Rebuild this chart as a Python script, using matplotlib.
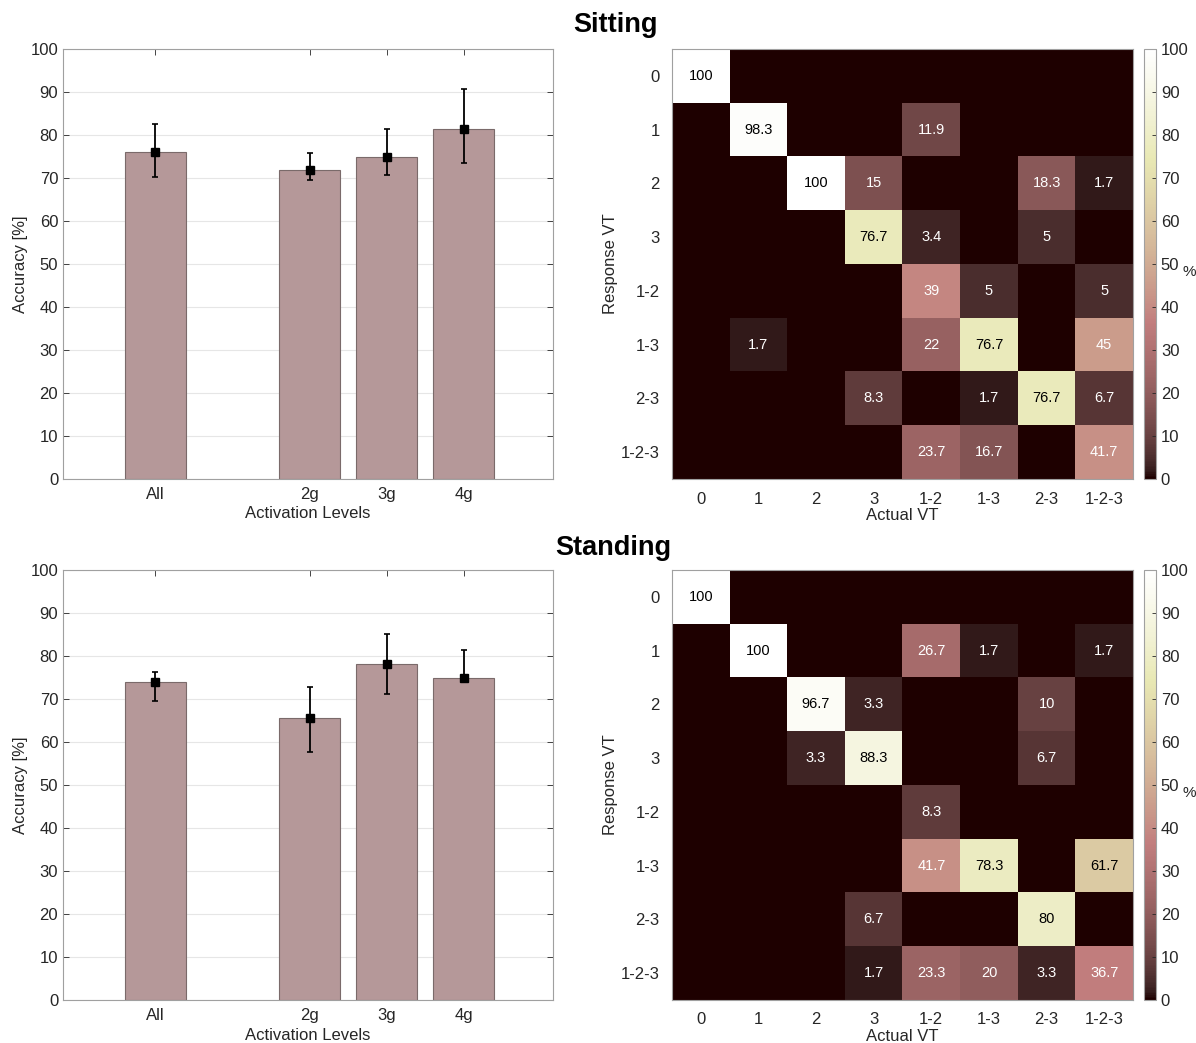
import numpy as np
import matplotlib
matplotlib.use("Agg")
from matplotlib import pyplot as plt

plt.rcParams['font.family'] = ['Liberation Sans', 'DejaVu Sans']

# bar chart data
levels = ["All", "2g", "3g", "4g"]
level_pos = [1, 3, 4, 5]

sit_acc = [76.0, 71.8, 75.0, 81.3]
sit_low = [70.2, 69.5, 70.8, 73.4]
sit_high = [82.6, 75.8, 81.3, 90.7]

stand_acc = [74.0, 65.6, 78.1, 75.0]
stand_low = [69.5, 57.7, 71.1, 75.0]
stand_high = [76.3, 72.7, 85.2, 81.3]

# confusion matrices (rows = response VT, cols = actual VT)
vt_labels = ["0", "1", "2", "3", "1-2", "1-3", "2-3", "1-2-3"]

sit_cm = [
    [100, 0, 0, 0, 0, 0, 0, 0],
    [0, 98.3, 0, 0, 11.9, 0, 0, 0],
    [0, 0, 100, 15, 0, 0, 18.3, 1.7],
    [0, 0, 0, 76.7, 3.4, 0, 5, 0],
    [0, 0, 0, 0, 39, 5, 0, 5],
    [0, 1.7, 0, 0, 22, 76.7, 0, 45],
    [0, 0, 0, 8.3, 0, 1.7, 76.7, 6.7],
    [0, 0, 0, 0, 23.7, 16.7, 0, 41.7],
]

stand_cm = [
    [100, 0, 0, 0, 0, 0, 0, 0],
    [0, 100, 0, 0, 26.7, 1.7, 0, 1.7],
    [0, 0, 96.7, 3.3, 0, 0, 10, 0],
    [0, 0, 3.3, 88.3, 0, 0, 6.7, 0],
    [0, 0, 0, 0, 8.3, 0, 0, 0],
    [0, 0, 0, 0, 41.7, 78.3, 0, 61.7],
    [0, 0, 0, 6.7, 0, 0, 80, 0],
    [0, 0, 0, 1.7, 23.3, 20, 3.3, 36.7],
]

W, H = 1196, 1043
fig = plt.figure(figsize=(W / 100, H / 100), dpi=100)


def px_axes(left, top, right, bottom):
    return fig.add_axes([left / W, 1 - bottom / H, (right - left) / W, (bottom - top) / H])


def bar_panel(ax, acc, low, high):
    acc = np.array(acc)
    err = [acc - np.array(low), np.array(high) - acc]
    ax.bar(level_pos, acc, width=0.8, color="#b59899", edgecolor="#7a6a6a", linewidth=0.8, zorder=2)
    ax.errorbar(level_pos, acc, yerr=err, fmt="s", color="black", ms=6,
                elinewidth=1.3, capsize=2.5, capthick=1.2, zorder=3)
    ax.set_xlim(-0.2, 6.16)
    ax.set_ylim(0, 100)
    ax.set_yticks(range(0, 101, 10))
    ax.set_xticks(level_pos)
    ax.set_xticklabels(levels)
    ax.grid(axis="y", color="#e6e6e6", linewidth=0.8, zorder=0)
    ax.tick_params(labelsize=12, colors="#262626", direction="in", length=4,
                   top=True, right=True, width=0.6)
    ax.tick_params(axis="x", pad=6)
    for s in ax.spines.values():
        s.set_color("#a0a0a0")
        s.set_linewidth(0.8)
    ax.set_ylabel("Accuracy [%]", fontsize=12, color="#262626", labelpad=2)
    ax.set_xlabel("Activation Levels", fontsize=12, color="#262626", labelpad=3)


def cm_panel(ax, cax, cm, pct_y):
    cm = np.array(cm, dtype=float)
    im = ax.imshow(cm, cmap="pink", vmin=0, vmax=100, aspect="auto", interpolation="nearest")
    for i in range(cm.shape[0]):
        for j in range(cm.shape[1]):
            v = cm[i, j]
            if v > 0:
                txt = "%g" % v
                ax.text(j, i, txt, ha="center", va="center", fontsize=10.5,
                        color="black" if v > 55 else "white")
    ax.set_xticks(range(len(vt_labels)))
    ax.set_xticklabels(vt_labels)
    ax.set_yticks(range(len(vt_labels)))
    ax.set_yticklabels(vt_labels)
    ax.tick_params(labelsize=12, colors="#262626", length=0, pad=9)
    for s in ax.spines.values():
        s.set_color("#a0a0a0")
        s.set_linewidth(0.8)
    ax.set_xlabel("Actual VT", fontsize=12, color="#262626", labelpad=1)
    ax.set_ylabel("Response VT", fontsize=12, color="#262626", labelpad=2)
    cb = fig.colorbar(im, cax=cax)
    cb.set_ticks(range(0, 101, 10))
    cb.ax.tick_params(labelsize=12, colors="#262626", direction="in", length=3, width=0.6)
    cb.outline.set_edgecolor("#a0a0a0")
    cb.outline.set_linewidth(0.8)
    fig.text(1189 / W, 1 - pct_y / H, "%", ha="center", va="center", fontsize=11, color="#262626")


ax1 = px_axes(63, 49, 553, 479)
bar_panel(ax1, sit_acc, sit_low, sit_high)
ax2 = px_axes(672, 49, 1133, 479)
cax2 = px_axes(1144, 49, 1156, 479)
cm_panel(ax2, cax2, sit_cm, 272)

ax3 = px_axes(63, 570, 553, 1000)
bar_panel(ax3, stand_acc, stand_low, stand_high)
ax4 = px_axes(672, 570, 1133, 1000)
cax4 = px_axes(1144, 570, 1156, 1000)
cm_panel(ax4, cax4, stand_cm, 793)

fig.text(615 / W, 1 - 25 / H, "Sitting", ha="center", va="center", fontsize=19.5, fontweight="bold")
fig.text(613 / W, 1 - 548 / H, "Standing", ha="center", va="center", fontsize=19.5, fontweight="bold")

fig.savefig("out.png", dpi=100, facecolor="white")
